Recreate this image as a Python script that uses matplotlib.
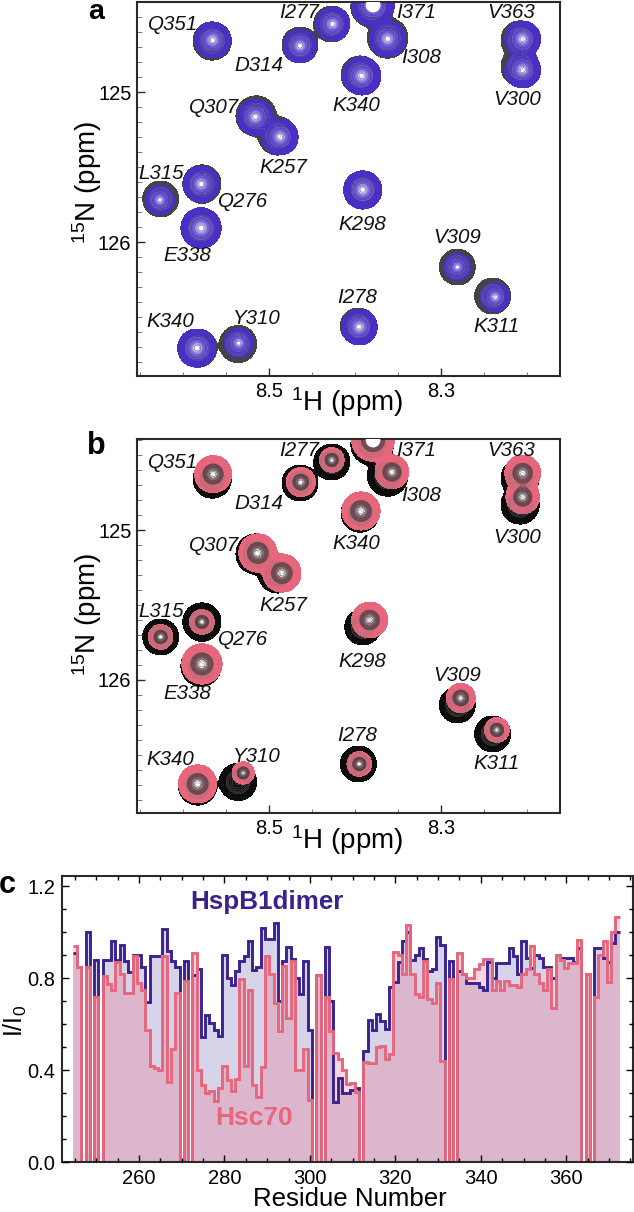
import numpy as np
import matplotlib
matplotlib.use('Agg')
import matplotlib.pyplot as plt
from matplotlib.patches import Ellipse
from matplotlib.ticker import FixedLocator, MultipleLocator

plt.rcParams['font.family'] = ['Liberation Sans', 'DejaVu Sans']
plt.rcParams['mathtext.fontset'] = 'custom'
plt.rcParams['mathtext.rm'] = 'Liberation Sans'
plt.rcParams['mathtext.it'] = 'Liberation Sans:italic'
plt.rcParams['mathtext.default'] = 'regular'

W, H = 634, 1212
BLUE = '#4a2fc4'
DARK_BLUE = '#3a2390'
PINK = '#e8667c'
SPINE = '#2a2a2a'

# peak labels, position of the label text in ppm
label_names = ['Q351', 'I277', 'D314', 'Q307', 'K257', 'L315', 'Q276', 'K340', 'I371', 'I308',
               'V363', 'V300', 'K298', 'E338', 'V309', 'K311', 'K340', 'Y310', 'I278']
label_h = [8.612, 8.465, 8.512, 8.564, 8.483, 8.626, 8.530, 8.399, 8.329, 8.323,
           8.219, 8.212, 8.392, 8.595, 8.281, 8.236, 8.615, 8.514, 8.398]
label_n = [124.547, 124.467, 124.82, 125.10, 125.50, 125.54, 125.733, 125.087, 124.473, 124.773,
           124.473, 125.053, 125.88, 126.093, 125.973, 126.56, 126.533, 126.513, 126.373]

# peak order: Q351 I277 D314 K340 I371 I308 V363 V300 Q307 K257 L315 Q276 E338 K298 V309 K311 K340 Y310 I278
ref_h = [8.566, 8.427, 8.464, 8.394, 8.380, 8.362, 8.208, 8.208, 8.515, 8.490,
         8.626, 8.578, 8.579, 8.391, 8.281, 8.240, 8.583, 8.536, 8.396]
ref_n = [124.66, 124.547, 124.687, 124.887, 124.427, 124.64, 124.653, 124.833, 125.16, 125.293,
         125.713, 125.613, 125.907, 125.647, 126.167, 126.36, 126.707, 126.68, 126.56]
ref_w = [.0198, .0186, .0186, .0198, .0221, .0209, .0198, .0198, .0209, .0198,
         .0186, .0198, .0209, .0186, .0186, .0186, .0198, .0192, .0186]

blue_h = [8.5655, 8.4259, 8.464, 8.392, 8.379, 8.362, 8.205, 8.205, 8.516, 8.487,
          8.627, 8.579, 8.579, 8.391, 8.281, 8.237, 8.584, 8.535, 8.395]
blue_n = [124.653, 124.547, 124.693, 124.893, 124.42, 124.647, 124.647, 124.853, 125.167, 125.30,
          125.72, 125.613, 125.907, 125.653, 126.167, 126.367, 126.707, 126.673, 126.567]
blue_w = [.0186, .0174, .0174, .0198, .0221, .0186, .0186, .0186, .0186, .0186,
          .0151, .0186, .0209, .0198, .0140, .0151, .0198, .0151, .0186]

pink_h = [8.565, 8.427, 8.463, 8.393, 8.379, 8.357, 8.205, 8.205, 8.513, 8.485,
          8.626, 8.578, 8.578, 8.383, 8.277, 8.235, 8.583, 8.530, 8.395]
pink_n = [124.627, 124.533, 124.68, 124.873, 124.40, 124.613, 124.62, 124.78, 125.153, 125.287,
          125.713, 125.613, 125.893, 125.60, 126.12, 126.333, 126.693, 126.62, 126.56]
pink_w = [.0192, .0128, .0151, .0198, .0221, .0174, .0186, .0174, .0198, .0198,
          .0128, .0128, .0209, .0186, .0151, .0128, .0198, .0116, .0128]

# residue plot, intensity ratios for residues 245-372
residues = np.arange(245, 373)
hspb1 = [.91, .85, 0, 1.0, 0, .88, 0, .88, .88, .96,
         .88, .945, .875, .825, .90, .90, .85, .695, .895, .895,
         .895, 1.015, .92, .875, .85, 0, .875, 0, .815, .84,
         .545, .64, .605, .575, .55, .90, .80, .77, .83, .875,
         .895, .96, .835, .85, 1.02, .97, .97, 1.04, .70, .875,
         .935, .885, .80, .73, .875, .575, 0, .815, 0, .936,
         .70, .26, .365, .30, .30, .315, .32, 0, .485, .62,
         .575, .645, .615, .58, .76, .785, .87, .96, 1.0, .88,
         .90, .93, .885, .83, .84, .98, .945, 0, .875, 0,
         .83, .82, .78, .78, .78, .76, .75, .87, .80, .865,
         .865, .865, .93, .895, .82, .96, .89, .845, .90, .89,
         .85, .85, .80, .90, .89, .89, .89, .87, .93, 0,
         .82, 0, .93, .93, .89, .87, .955, 1.0]
hsc70 = [.94, .85, 0, .85, 0, .72, 0, .81, .775, .75,
         .87, .82, .735, .735, .895, .78, .75, .575, .42, .41,
         .40, .895, .35, .49, .735, 0, .79, 0, .91, .40,
         .335, .30, .31, .265, .32, .42, .355, .31, .36, .795,
         .42, .75, .335, .285, .415, .895, .82, .69, .57, .855,
         .625, .875, .40, .40, .49, .27, 0, .815, 0, .72,
         .57, .475, .45, .40, .34, .345, .305, 0, .435, .43,
         .43, .50, .505, .45, .47, .915, .90, .82, 1.03, .82,
         .73, .72, .875, .71, .69, .78, .44, 0, .795, 0,
         .91, .82, .80, .80, .84, .86, .885, .885, .75, .79,
         .75, .79, .77, .77, .76, .82, .84, .94, .82, .78,
         .75, .84, .67, .90, .88, .845, .865, .865, .965, 0,
         .82, 0, .72, .90, .96, .785, 1.0, 1.065]


def make_axes(fig, left, top, right, bottom):
    return fig.add_axes([left / W, 1 - bottom / H, (right - left) / W, (bottom - top) / H])


def peak_surface(X, Y, hs, ns, ws):
    # one gaussian per peak, lowest contour sits a bit outside the given width
    Z = np.zeros_like(X)
    for h, n, w in zip(hs, ns, ws):
        sx = w / 2.5
        sy = sx * 860 / 150
        Z += np.exp(-((X - h) ** 2 / (2 * sx ** 2) + (Y - n) ** 2 / (2 * sy ** 2)))
    return Z


def draw_spectrum(ax, top_h, top_n, top_w, top_colors, ref_color, ring_color, ring_lo, ylim):
    h = np.linspace(8.66, 8.16, 900)
    n = np.linspace(124.3, 127.0, 900)
    X, Y = np.meshgrid(h, n)
    ref = peak_surface(X, Y, ref_h, ref_n, ref_w)
    top = peak_surface(X, Y, top_h, top_n, top_w)
    ax.contourf(X, Y, ref, levels=[.02, 50], colors=[ref_color])
    ax.contour(X, Y, ref, levels=np.geomspace(.2, .9, 6), colors='#777777', linewidths=.25)
    # solid outer part, paler towards the peak top where the contours thin out
    levels = [.02, .3, .5, .72, .9, 50]
    ax.contourf(X, Y, top, levels=levels, colors=top_colors)
    ax.contour(X, Y, top, levels=np.geomspace(ring_lo, 1.0, 14), colors=ring_color, linewidths=.3)
    ax.add_patch(Ellipse((top_h[4], top_n[4]), .0155, .089, color='white', zorder=3))

    ax.set_xlim(8.6535, 8.1616)
    ax.set_ylim(ylim)
    ax.xaxis.set_major_locator(FixedLocator([8.5, 8.3]))
    ax.xaxis.set_major_formatter(lambda v, p: f'{v:.1f}')
    ax.xaxis.set_minor_locator(MultipleLocator(.05))
    ax.yaxis.set_major_locator(FixedLocator([125, 126]))
    ax.yaxis.set_major_formatter(lambda v, p: f'{v:.0f}')
    ax.yaxis.set_minor_locator(MultipleLocator(.1))
    ax.tick_params(which='major', direction='in', length=6, width=1, color=SPINE, labelsize=14.5, pad=4)
    ax.tick_params(which='minor', direction='in', length=1.5, width=.6, color='#666666')
    for t in ax.xaxis.get_minor_ticks():
        if abs(round(t.get_loc() * 10) - t.get_loc() * 10) < 1e-6:
            t.tick1line.set_markersize(3)
    for t in ax.yaxis.get_minor_ticks():
        if abs(round(t.get_loc() * 2) - t.get_loc() * 2) < 1e-6:
            t.tick1line.set_markersize(3.5)
    for s in ax.spines.values():
        s.set_linewidth(1.5)
        s.set_color(SPINE)
    for name, lh, ln in zip(label_names, label_h, label_n):
        ax.text(lh, ln, name, style='italic', fontsize=14.8, ha='center', va='center', color='#111111')


fig = plt.figure(figsize=(W / 100, H / 100), dpi=100)

ax_a = make_axes(fig, 137, 2, 560, 376)
draw_spectrum(ax_a, blue_h, blue_n, blue_w,
              [BLUE, '#6a52cf', '#a99be6', '#e4dff7', 'white'],
              '#444444', '#5a3fd0', .35, (126.893, 124.40))

ax_b = make_axes(fig, 137, 439, 560, 813)
draw_spectrum(ax_b, pink_h, pink_n, pink_w,
              [PINK, '#d8667a', '#b06c7a', '#c9a8b0', 'white'],
              '#0c0c0c', '#4a3a3e', .3, (126.887, 124.393))

ax_c = make_axes(fig, 62, 876, 633, 1162)
edges = np.append(residues - .5, residues[-1] + .5)
ax_c.stairs(hspb1, edges, fill=True, color=DARK_BLUE, alpha=.2, lw=0)
ax_c.stairs(hsc70, edges, fill=True, color=PINK, alpha=.26, lw=0)
ax_c.stairs(hspb1, edges, color=DARK_BLUE, lw=2.1, baseline=None)
ax_c.stairs(hsc70, edges, color=PINK, lw=2.1, baseline=None)
ax_c.set_xlim(242, 375.6)
ax_c.set_ylim(0, 1.245)
ax_c.xaxis.set_major_locator(MultipleLocator(20))
ax_c.xaxis.set_minor_locator(MultipleLocator(5))
ax_c.yaxis.set_major_locator(MultipleLocator(.4))
ax_c.yaxis.set_minor_locator(MultipleLocator(.1))
ax_c.tick_params(which='major', direction='in', length=5, width=1, top=True, right=True, labelsize=14.5, pad=5)
ax_c.tick_params(which='minor', direction='in', length=3, width=1, top=True, right=True)
for s in ax_c.spines.values():
    s.set_linewidth(1.5)
    s.set_color(SPINE)
ax_c.set_axisbelow(False)
ax_c.text(290, 1.13, 'HspB1dimer', color=DARK_BLUE, fontsize=18.7, fontweight='bold', ha='center', va='center')
ax_c.text(287, .19, 'Hsc70', color=PINK, fontsize=19, fontweight='bold', ha='center', va='center')

# axis titles and panel letters placed by pixel
def label(x, y, s, **kw):
    fig.text(x / W, 1 - y / H, s, ha='center', va='center', **kw)


label(347, 402, r'$^{1}$H (ppm)', fontsize=20)
label(347, 840, r'$^{1}$H (ppm)', fontsize=20)
label(87, 182, r'$^{15}$N (ppm)', fontsize=20, rotation=90)
label(87, 614, r'$^{15}$N (ppm)', fontsize=20, rotation=90)
label(350, 1199, 'Residue Number', fontsize=18.6)
label(15, 1021, r'I/I$_{0}$', fontsize=18, rotation=90)
fig.text(96 / W, 1 - 19 / H, 'a', fontsize=20.5, fontweight='bold', ha='center', va='baseline')
label(96, 446, 'b', fontsize=22, fontweight='bold')
label(7, 885, 'c', fontsize=22, fontweight='bold')

fig.savefig('out.png', dpi=100)
